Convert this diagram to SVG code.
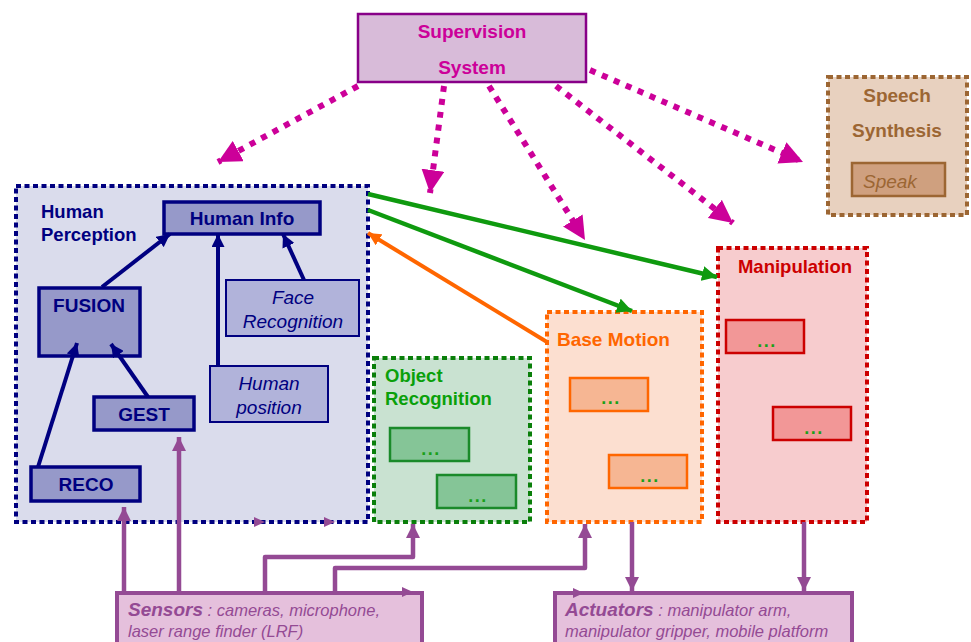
<svg xmlns="http://www.w3.org/2000/svg" width="971" height="642" viewBox="0 0 971 642">
<style>
text{font-family:"Liberation Sans",Arial,sans-serif}
.b{font-weight:bold}
.i{font-style:italic}
.c{text-anchor:middle}
.nav{fill:#000080}
.hp{fill:#dadcec;stroke:#000080;stroke-width:4;stroke-dasharray:5 3.5}
.sub{fill:#9699c9;stroke:#000080;stroke-width:3.5}
.sub2{fill:#b1b3da;stroke:#000080;stroke-width:2}
.dots{font-size:18px;font-weight:bold;letter-spacing:1.5px;text-anchor:middle}
.mag{fill:none;stroke:#cc0099;stroke-width:6;stroke-dasharray:6 7;marker-end:url(#mMag)}
.navl{fill:none;stroke:#000080;stroke-width:4;marker-end:url(#mNav)}
.pur{fill:none;stroke:#944a94;stroke-width:4.5;marker-end:url(#mPur);stroke-linejoin:round}
.grn{fill:none;stroke:#0f9a0f;stroke-width:4.5;marker-end:url(#mGrn)}
.org{fill:none;stroke:#ff6600;stroke-width:4;marker-end:url(#mOrg)}
.tri{fill:#944a94}
</style>
<defs>
<marker id="mMag" viewBox="0 0 20 20" refX="20" refY="10" markerWidth="23" markerHeight="23" markerUnits="userSpaceOnUse" orient="auto"><path d="M0,0 L20,10 L0,20 z" fill="#cc0099"/></marker>
<marker id="mNav" viewBox="0 0 12 12" refX="12" refY="6" markerWidth="13" markerHeight="13" markerUnits="userSpaceOnUse" orient="auto"><path d="M0,0 L12,6 L0,12 z" fill="#000080"/></marker>
<marker id="mPur" viewBox="0 0 12 12" refX="12" refY="6" markerWidth="14" markerHeight="14" markerUnits="userSpaceOnUse" orient="auto"><path d="M0,0 L12,6 L0,12 z" fill="#944a94"/></marker>
<marker id="mGrn" viewBox="0 0 14 14" refX="14" refY="7" markerWidth="15" markerHeight="15" markerUnits="userSpaceOnUse" orient="auto"><path d="M0,0 L14,7 L0,14 z" fill="#0f9a0f"/></marker>
<marker id="mOrg" viewBox="0 0 12 12" refX="12" refY="6" markerWidth="13" markerHeight="13" markerUnits="userSpaceOnUse" orient="auto"><path d="M0,0 L12,6 L0,12 z" fill="#ff6600"/></marker>
</defs>
<rect width="971" height="642" fill="#ffffff"/>

<g id="supervision">
<rect x="358" y="14" width="228" height="68" fill="#d8bbd9" stroke="#880088" stroke-width="2.5"/>
<text x="472" y="38" class="b c" font-size="19" fill="#cc0099">Supervision</text>
<text x="472" y="74" class="b c" font-size="19" fill="#cc0099">System</text>
</g>

<g id="speech-synthesis">
<rect x="828" y="77" width="139" height="138" fill="#e8d1bf" stroke="#9c6633" stroke-width="4" stroke-dasharray="5 3.5"/>
<text x="897" y="102" class="b c" font-size="19" fill="#9c6633">Speech</text>
<text x="897" y="137" class="b c" font-size="19" fill="#9c6633">Synthesis</text>
<g id="speak">
<rect x="852" y="163" width="93" height="33" fill="#cfa07f" stroke="#9c6633" stroke-width="2.5"/>
<text x="863" y="188" class="i" font-size="19" fill="#9c6633">Speak</text>
</g>
</g>

<g id="human-perception">
<rect x="16" y="186" width="352" height="336" class="hp"/>
<text x="41" y="218" class="b nav" font-size="18.5">Human</text>
<text x="41" y="241" class="b nav" font-size="18.5">Perception</text>
</g>
<g id="human-info">
<rect x="164" y="202" width="156" height="32" class="sub" stroke-width="3"/>
<text x="242" y="225" class="b c nav" font-size="19">Human Info</text>
</g>
<g id="fusion">
<rect x="39" y="288" width="101" height="68" class="sub" stroke-width="4"/>
<text x="89" y="312" class="b c nav" font-size="19">FUSION</text>
</g>
<g id="gest">
<rect x="94" y="397" width="100" height="33" class="sub"/>
<text x="144" y="421" class="b c nav" font-size="19">GEST</text>
</g>
<g id="reco">
<rect x="31" y="467" width="109" height="34" class="sub"/>
<text x="86" y="491" class="b c nav" font-size="19">RECO</text>
</g>
<g id="face-recognition">
<rect x="226" y="280" width="133" height="56" class="sub2"/>
<text x="293" y="304" class="i c nav" font-size="19">Face</text>
<text x="293" y="328" class="i c nav" font-size="19">Recognition</text>
</g>
<g id="human-position">
<rect x="210" y="366" width="118" height="56" class="sub2"/>
<text x="269" y="390" class="i c nav" font-size="19">Human</text>
<text x="269" y="414" class="i c nav" font-size="19">position</text>
</g>

<g id="object-recognition">
<rect x="374" y="358" width="156" height="164" fill="#c9e2d1" stroke="#0a7f0a" stroke-width="4" stroke-dasharray="5 3.5"/>
<text x="385" y="382" class="b" font-size="18.5" fill="#0aa00a">Object</text>
<text x="385" y="405" class="b" font-size="18.5" fill="#0aa00a">Recognition</text>
<rect x="390" y="428" width="79" height="33" fill="#85c597" stroke="#1a8a2a" stroke-width="2.5"/>
<text x="431" y="455" class="dots" fill="#1aa01a">...</text>
<rect x="437" y="475" width="79" height="33" fill="#85c597" stroke="#1a8a2a" stroke-width="2.5"/>
<text x="478" y="502" class="dots" fill="#1aa01a">...</text>
</g>

<g id="base-motion">
<rect x="547" y="312" width="155" height="210" fill="#fcdfd0" stroke="#ff6600" stroke-width="4" stroke-dasharray="5 3.5"/>
<text x="557" y="346" class="b" font-size="19" fill="#ff6600">Base Motion</text>
<rect x="570" y="378" width="78" height="33" fill="#f6b693" stroke="#ff6600" stroke-width="2.5"/>
<text x="611" y="404" class="dots" fill="#1aa01a">...</text>
<rect x="609" y="455" width="78" height="33" fill="#f6b693" stroke="#ff6600" stroke-width="2.5"/>
<text x="650" y="482" class="dots" fill="#1aa01a">...</text>
</g>

<g id="manipulation">
<rect x="718" y="248" width="149" height="274" fill="#f7ccce" stroke="#cc0000" stroke-width="4" stroke-dasharray="5 3.5"/>
<text x="795" y="273" class="b c" font-size="18.5" fill="#cc0000">Manipulation</text>
<rect x="726" y="320" width="78" height="33" fill="#f29797" stroke="#cc0000" stroke-width="2.5"/>
<text x="767" y="347" class="dots" fill="#1aa01a">...</text>
<rect x="773" y="407" width="78" height="33" fill="#f29797" stroke="#cc0000" stroke-width="2.5"/>
<text x="814" y="434" class="dots" fill="#1aa01a">...</text>
</g>

<g id="sensors">
<rect x="117" y="593" width="305" height="60" fill="#e5c0dc" stroke="#944a94" stroke-width="4"/>
<text x="128" y="616" font-size="16.5" fill="#944a94" class="i"><tspan class="b" font-size="19">Sensors</tspan> : cameras, microphone,</text>
<text x="128" y="637" font-size="16.5" fill="#944a94" class="i">laser range finder (LRF)</text>
</g>

<g id="actuators">
<rect x="555" y="593" width="297" height="60" fill="#e5c0dc" stroke="#944a94" stroke-width="4"/>
<text x="565" y="616" font-size="16.5" fill="#944a94" class="i"><tspan class="b" font-size="19">Actuators</tspan> : manipulator arm,</text>
<text x="565" y="637" font-size="16.5" fill="#944a94" class="i">manipulator gripper, mobile platform</text>
</g>

<g id="connectors">
<path class="mag" d="M358,86 L218,162"/>
<path class="mag" d="M444,86 L430,193"/>
<path class="mag" d="M489,86 L585,240"/>
<path class="mag" d="M556,86 L733,223"/>
<path class="mag" d="M590,70 L803,162"/>

<path class="grn" d="M368,194 L717,277"/>
<path class="grn" d="M368,210 L632,311"/>
<path class="org" d="M547,342 L368,233"/>

<path class="navl" d="M102,287 L170,234"/>
<path class="navl" d="M218,366 L218,234"/>
<path class="navl" d="M304,280 L283,234"/>
<path class="navl" d="M38,467 L77,343"/>
<path class="navl" d="M148,397 L111,344"/>

<path class="pur" d="M124,593 L124,507"/>
<path class="pur" d="M179,593 L179,437"/>
<path class="pur" d="M265,593 L265,557 L413,557 L413,524"/>
<path class="pur" d="M335,593 L335,568 L585,568 L585,524"/>
<path class="pur" d="M632,522 L632,591"/>
<path class="pur" d="M804,522 L804,591"/>

<path class="tri" d="M254,517 L265,522 L254,527 z"/>
<path class="tri" d="M324,517 L335,522 L324,527 z"/>
<path class="tri" d="M402,587 L413,592 L402,597 z"/>
<path class="tri" d="M573,588 L584,593 L573,598 z"/>
</g>
</svg>
